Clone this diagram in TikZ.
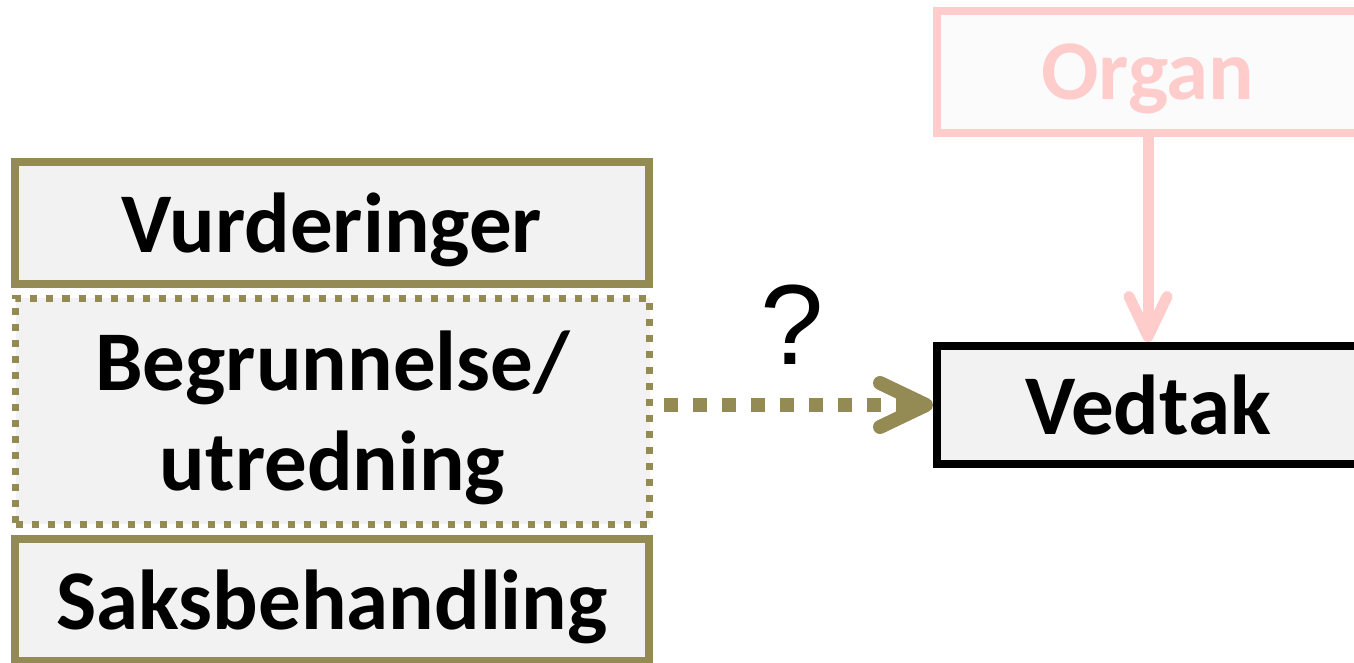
\documentclass[tikz,border=0pt]{standalone}
\usepackage{fontspec}
\setmainfont{Carlito}
\newfontfamily\qfont{Liberation Sans}
\usetikzlibrary{arrows.meta,positioning}
\definecolor{oliven}{HTML}{948A54}
\definecolor{boxgray}{HTML}{F2F2F2}
\definecolor{rosa}{HTML}{FFCCCC}
\definecolor{rosafill}{HTML}{FBFBFB}

\begin{document}
\begin{tikzpicture}[
    x=0.5pt, y=-0.5pt,
    box/.style={draw=oliven, line width=4pt, fill=boxgray, align=center,
                minimum width=317pt, minimum height=61pt, inner sep=0pt,
                text depth=0pt, font=\fontsize{42.5}{50}\selectfont\bfseries},
    dotbox/.style={box, line width=3.5pt, dash pattern=on 3.5pt off 4.5pt},
    arr/.style={-{Straight Barb[length=23pt, width=22pt, round]}, line width=7pt,
                draw=oliven, dash pattern=on 7pt off 7.5pt},
    pinkarr/.style={-{Straight Barb[length=20pt, width=19pt, round]}, line width=5.5pt,
                draw=rosa}
  ]
  \useasboundingbox (0,0) rectangle (1354,663);
  \clip (0,0) rectangle (1354,663);

  \node[box] (vur) at (332,223) {Vurderinger};
  \node[dotbox, minimum height=113pt] (beg) at (332.5,411) {Begrunnelse/\\utredning};
  \node[box] (saks) at (332,600) {Saksbehandling};

  \node[box, draw=rosa, fill=rosafill, text=rosa, minimum width=211pt] (org) at (1148,72) {Organ};
  \node[box, draw=black, minimum width=211pt, minimum height=59pt] (ved) at (1148,405) {Vedtak};

  \node[font=\qfont\fontsize{57}{60}\selectfont, inner sep=0pt] (q) at (792,325) {?};

  \draw[pinkarr] (org) -- (ved);
  \draw[arr] ([xshift=5.5pt]beg.east |- ved.west) -- (ved.west);
\end{tikzpicture}
\end{document}
